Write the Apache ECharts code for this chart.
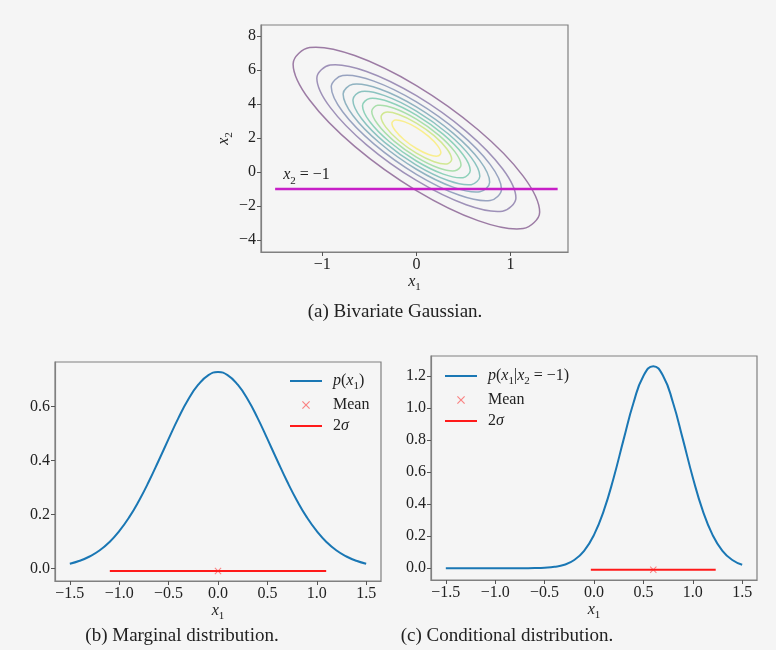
<!DOCTYPE html>
<html><head><meta charset="utf-8">
<script src="https://cdn.jsdelivr.net/npm/echarts@6/dist/echarts.min.js"></script>
<style>html,body{margin:0;padding:0;background:#f5f5f5;}#c{width:776px;height:650px;}</style>
</head><body><div id="c"></div>
<script>
// ---------------- data ----------------
// contour ellipses of the bivariate Gaussian (outer -> inner), [x1, x2] points
var contourColors = ['#440154', '#472d7b', '#3b528b', '#2c728e', '#21918c', '#28ae80', '#5ec962', '#addc30', '#fde725'];
var contour1 = [[1.309,-2.363],[1.134,-0.236],[0.655,2.490],[0,5.085],[-0.655,6.854],[-1.134,7.322],[-1.309,6.363],[-1.134,4.236],[-0.655,1.510],[0,-1.085],[0.655,-2.854],[1.134,-3.322]];
var contour2 = [[1.057,-1.524],[0.915,0.194],[0.529,2.396],[0,4.492],[-0.529,5.920],[-0.915,6.297],[-1.057,5.524],[-0.915,3.806],[-0.529,1.604],[0,-0.492],[0.529,-1.920],[0.915,-2.297]];
var contour3 = [[0.904,-1.012],[0.783,0.456],[0.452,2.339],[0,4.130],[-0.452,5.351],[-0.783,5.674],[-0.904,5.012],[-0.783,3.544],[-0.452,1.661],[0,-0.130],[0.452,-1.351],[0.783,-1.674]];
var contour4 = [[0.778,-0.592],[0.674,0.671],[0.389,2.291],[0,3.833],[-0.389,4.884],[-0.674,5.162],[-0.778,4.592],[-0.674,3.329],[-0.389,1.709],[0,0.167],[0.389,-0.884],[0.674,-1.162]];
var contour5 = [[0.674,-0.246],[0.583,0.849],[0.337,2.252],[0,3.588],[-0.337,4.498],[-0.583,4.739],[-0.674,4.246],[-0.583,3.151],[-0.337,1.748],[0,0.412],[0.337,-0.498],[0.583,-0.739]];
var contour6 = [[0.572,0.092],[0.496,1.022],[0.286,2.214],[0,3.349],[-0.286,4.122],[-0.496,4.327],[-0.572,3.908],[-0.496,2.978],[-0.286,1.786],[0,0.651],[0.286,-0.122],[0.496,-0.327]];
var contour7 = [[0.474,0.421],[0.410,1.191],[0.237,2.177],[0,3.117],[-0.237,3.757],[-0.410,3.926],[-0.474,3.579],[-0.410,2.809],[-0.237,1.823],[0,0.883],[0.237,0.243],[0.410,0.074]];
var contour8 = [[0.375,0.749],[0.325,1.359],[0.188,2.141],[0,2.884],[-0.188,3.391],[-0.325,3.525],[-0.375,3.251],[-0.325,2.641],[-0.188,1.859],[0,1.116],[0.188,0.609],[0.325,0.475]];
var contour9 = [[0.260,1.133],[0.225,1.556],[0.130,2.097],[0,2.613],[-0.130,2.965],[-0.225,3.058],[-0.260,2.867],[-0.225,2.444],[-0.130,1.903],[0,1.387],[0.130,1.035],[0.225,0.942]];
var contours = [contour1, contour2, contour3, contour4, contour5, contour6, contour7, contour8, contour9];

var conditionLine = [[-1.5, -1], [1.5, -1]];
var conditionLabelPos = [-1.415, -0.18];

var xs = [-1.5,-1.4,-1.3,-1.2,-1.1,-1.0,-0.9,-0.8,-0.7,-0.6,-0.5,-0.4,-0.3,-0.2,-0.1,0,0.1,0.2,0.3,0.4,0.5,0.6,0.7,0.8,0.9,1.0,1.1,1.2,1.3,1.4,1.5];
var marginalPdf = [0.017,0.028,0.044,0.066,0.097,0.138,0.189,0.251,0.322,0.400,0.480,0.558,0.627,0.681,0.716,0.728,0.716,0.681,0.627,0.558,0.480,0.400,0.322,0.251,0.189,0.138,0.097,0.066,0.044,0.028,0.017];
var conditionalPdf = [0,0,0,0,0,0,0,0.0001,0.0003,0.0009,0.003,0.0085,0.022,0.0514,0.1089,0.2085,0.3615,0.5669,0.8044,1.0329,1.2001,1.2616,1.2001,1.0329,0.8044,0.5669,0.3615,0.2085,0.1089,0.0514,0.022];
var marginalMean = [[0, -0.01]];
var marginalTwoSigma = [[-1.095, -0.01], [1.095, -0.01]];
var conditionalMean = [[0.6, -0.01]];
var conditionalTwoSigma = [[-0.032, -0.01], [1.232, -0.01]];

var topXTicks = [-1, 0, 1];
var topXTickLabels = ['−1', '0', '1'];
var topYTicks = [-4, -2, 0, 2, 4, 6, 8];
var topYTickLabels = ['−4', '−2', '0', '2', '4', '6', '8'];
var bottomXTicks = [-1.5, -1, -0.5, 0, 0.5, 1, 1.5];
var bottomXTickLabels = ['−1.5', '−1.0', '−0.5', '0.0', '0.5', '1.0', '1.5'];
var leftYTicks = [0, 0.2, 0.4, 0.6];
var leftYTickLabels = ['0.0', '0.2', '0.4', '0.6'];
var rightYTicks = [0, 0.2, 0.4, 0.6, 0.8, 1.0, 1.2];
var rightYTickLabels = ['0.0', '0.2', '0.4', '0.6', '0.8', '1.0', '1.2'];

var captions = ['(a) Bivariate Gaussian.', '(b) Marginal distribution.', '(c) Conditional distribution.'];

// ---------------- chart ----------------
var F = '"Liberation Serif", "DejaVu Serif", serif';
var R = {
  n: {fontFamily: F, fontSize: 16, lineHeight: 22, color: '#222'},
  i: {fontFamily: F, fontSize: 16, lineHeight: 22, fontStyle: 'italic', color: '#222'},
  s: {fontFamily: F, fontSize: 11, lineHeight: 12, verticalAlign: 'bottom', color: '#222'}
};
var legendText = {
  'p1': '{i|p}{n|(}{i|x}{s|1}{n|)}',
  'pc': '{i|p}{n|(}{i|x}{s|1}{n||}{i|x}{s|2}{n| = −1)}',
  'Mean': '{n|Mean}',
  '2σ': '{n|2}{i|σ}'
};
var BLUE = '#1a77b4', RED = '#ff1a1a', MAG = '#c71fc7';
var X_PATH = 'path://M1,0L5,4L9,0L10,1L6,5L10,9L9,10L5,6L1,10L0,9L4,5L0,1Z';
var LINE_ICON = 'path://M0,0H16V1H0Z';

function fmt(ticks, labels) {
  return function (v) { var k = ticks.indexOf(v); return k >= 0 ? labels[k] : ''; };
}
function axis(idx, min, max, ticks, labels, name, nameGap) {
  return {
    type: 'value', gridIndex: idx, min: min, max: max,
    axisLine: {show: true, onZero: false, lineStyle: {color: '#808080', width: 1.2}},
    splitLine: {show: false},
    axisTick: {show: true, inside: false, length: 4, customValues: ticks, lineStyle: {color: '#555', width: 1}},
    axisLabel: {customValues: ticks, formatter: fmt(ticks, labels), color: '#222', fontFamily: F, fontSize: 16, margin: 5},
    name: name, nameLocation: 'middle', nameGap: nameGap || 0,
    nameTextStyle: {rich: R}
  };
}
var gridStyle = {show: true, borderColor: '#808080', borderWidth: 1.2, backgroundColor: 'transparent', containLabel: false};

var series = [];
contours.forEach(function (pts, k) {
  series.push({
    type: 'custom', xAxisIndex: 0, yAxisIndex: 0, silent: true,
    data: pts, encode: {x: 0, y: 1},
    renderItem: function (params, api) {
      if (params.dataIndex !== 0) return null;
      var p = pts.map(function (q) { return api.coord(q); });
      return {type: 'polygon', shape: {points: p, smooth: 0.35},
        style: {fill: 'none', stroke: contourColors[k], lineWidth: 1.5, opacity: 0.5}};
    }
  });
});
series.push({
  type: 'line', name: 'cond', xAxisIndex: 0, yAxisIndex: 0, data: conditionLine, symbol: 'none',
  lineStyle: {color: MAG, width: 2.5}, silent: true,
  markPoint: {symbol: 'circle', symbolSize: 0, silent: true,
    data: [{coord: conditionLabelPos}],
    label: {show: true, position: 'right', distance: 0, formatter: '{i|x}{s|2}{n| = −1}', rich: R}}
});
series.push({type: 'line', name: 'p1', xAxisIndex: 1, yAxisIndex: 1, smooth: true, symbol: 'none',
  data: xs.map(function (x, i) { return [x, marginalPdf[i]]; }), lineStyle: {color: BLUE, width: 2}, itemStyle: {color: BLUE}});
series.push({type: 'line', name: '2σ', xAxisIndex: 1, yAxisIndex: 1, symbol: 'none',
  data: marginalTwoSigma, lineStyle: {color: RED, width: 2}, itemStyle: {color: RED}});
series.push({type: 'scatter', name: 'Mean', xAxisIndex: 1, yAxisIndex: 1, symbol: X_PATH, symbolSize: 7, symbolKeepAspect: true,
  data: marginalMean, itemStyle: {color: 'rgba(255,40,40,0.7)'}, z: 5});
series.push({type: 'line', name: 'pc', xAxisIndex: 2, yAxisIndex: 2, smooth: true, symbol: 'none',
  data: xs.map(function (x, i) { return [x, conditionalPdf[i]]; }), lineStyle: {color: BLUE, width: 2}, itemStyle: {color: BLUE}});
series.push({type: 'line', name: '2σ', xAxisIndex: 2, yAxisIndex: 2, symbol: 'none',
  data: conditionalTwoSigma, lineStyle: {color: RED, width: 2}, itemStyle: {color: RED}});
series.push({type: 'scatter', name: 'Mean', xAxisIndex: 2, yAxisIndex: 2, symbol: X_PATH, symbolSize: 7, symbolKeepAspect: true,
  data: conditionalMean, itemStyle: {color: 'rgba(255,40,40,0.7)'}, z: 5});

function legend(left, top, names) {
  return {
    orient: 'vertical', left: left, top: top, padding: 0, itemGap: 5, itemWidth: 32, itemHeight: 8,
    selectedMode: false,
    data: names.map(function (n) { return n === 'Mean' ? {name: n} : {name: n, icon: LINE_ICON}; }),
    formatter: function (n) { return legendText[n]; },
    textStyle: {rich: R, padding: [0, 0, 0, 6]}
  };
}

var chart = echarts.init(document.getElementById('c'), null, {renderer: 'canvas'});
chart.setOption({
  backgroundColor: '#f5f5f5',
  animation: false,
  grid: [
    Object.assign({left: 261, top: 25, width: 307, height: 227}, gridStyle),
    Object.assign({left: 55, top: 362, width: 326, height: 219}, gridStyle),
    Object.assign({left: 431, top: 356, width: 326, height: 224}, gridStyle)
  ],
  xAxis: [
    axis(0, -1.65, 1.61, topXTicks, topXTickLabels, '{i|x}{s|1}', 10),
    axis(1, -1.65, 1.65, bottomXTicks, bottomXTickLabels, '{i|x}{s|1}', 11),
    axis(2, -1.65, 1.65, bottomXTicks, bottomXTickLabels, '{i|x}{s|1}', 11)
  ],
  yAxis: [
    axis(0, -4.7, 8.65, topYTicks, topYTickLabels, '{i|x}{s|2}', 26),
    axis(1, -0.0469, 0.7653, leftYTicks, leftYTickLabels, '', 0),
    axis(2, -0.0736, 1.325, rightYTicks, rightYTickLabels, '', 0)
  ],
  legend: [
    legend(290, 373, ['p1', 'Mean', '2σ']),
    legend(445, 368, ['pc', 'Mean', '2σ'])
  ],
  series: series,
  graphic: [
    {type: 'text', x: 395, y: 312, style: {text: captions[0], font: '19px ' + F, fill: '#222', align: 'center', verticalAlign: 'middle'}},
    {type: 'text', x: 182, y: 636, style: {text: captions[1], font: '19px ' + F, fill: '#222', align: 'center', verticalAlign: 'middle'}},
    {type: 'text', x: 507, y: 636, style: {text: captions[2], font: '19px ' + F, fill: '#222', align: 'center', verticalAlign: 'middle'}}
  ]
});
</script>
</body></html>
